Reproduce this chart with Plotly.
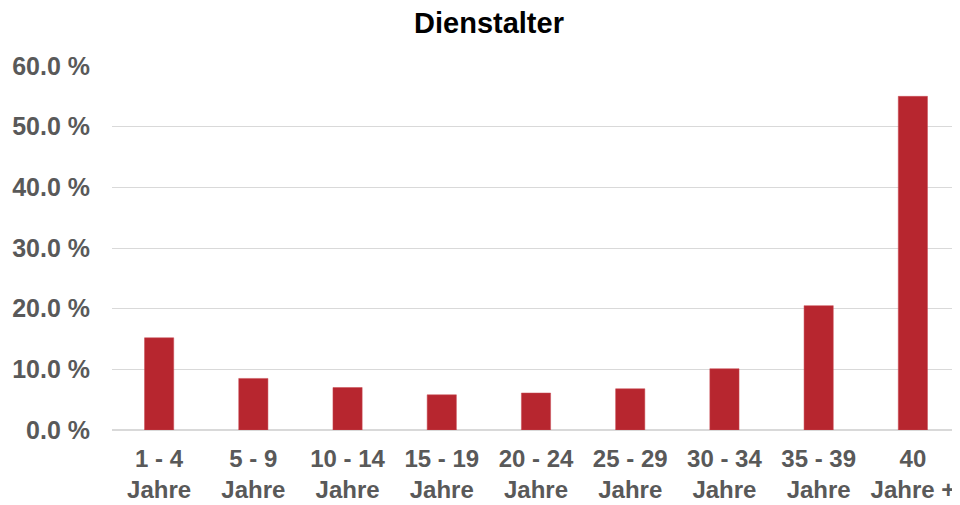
import plotly.graph_objects as go

categories = ["1 - 4<br>Jahre", "5 - 9<br>Jahre", "10 - 14<br>Jahre", "15 - 19<br>Jahre",
              "20 - 24<br>Jahre", "25 - 29<br>Jahre", "30 - 34<br>Jahre", "35 - 39<br>Jahre",
              "40<br>Jahre +"]
values = [15.2, 8.5, 7.0, 5.8, 6.1, 6.8, 10.1, 20.5, 55.0]
y_ticks = [0, 10, 20, 30, 40, 50, 60]

FONT = "Liberation Sans, Arial, sans-serif"
W, H = 952, 497  # page body adds 8px offset

fig = go.Figure(go.Bar(
    x=categories, y=values,
    marker=dict(color="#b7262f", line=dict(color="#c94b52", width=0.5)),
    width=0.31,
))

fig.update_layout(
    width=W, height=H,
    margin=dict(l=104, r=0, t=58, b=75),
    paper_bgcolor="white", plot_bgcolor="white",
    title=dict(text="<b>Dienstalter</b>", x=481 / W, xanchor="center",
               y=1 - 15 / H, yanchor="middle",
               font=dict(family=FONT, size=29, color="black")),
    font=dict(family=FONT),
    showlegend=False,
    xaxis=dict(
        tickvals=categories,
        ticktext=["<b>" + c.replace("<br>", "</b><br><b>") + "</b>" for c in categories],
        tickfont=dict(size=24, color="#595959", family=FONT),
        showgrid=False, showline=False, ticks="", ticklabelstandoff=12,
    ),
    yaxis=dict(
        range=[0, 60], tickvals=y_ticks,
        ticktext=["<b>%.1f %%</b>" % v for v in y_ticks],
        tickfont=dict(size=25, color="#595959", family=FONT),
        showgrid=True, gridcolor="#d9d9d9", gridwidth=1, zeroline=True, zerolinecolor="#d9d9d9",
        ticks="", ticklabelstandoff=21, automargin=False,
    ),
)

fig.write_html("out.html")
